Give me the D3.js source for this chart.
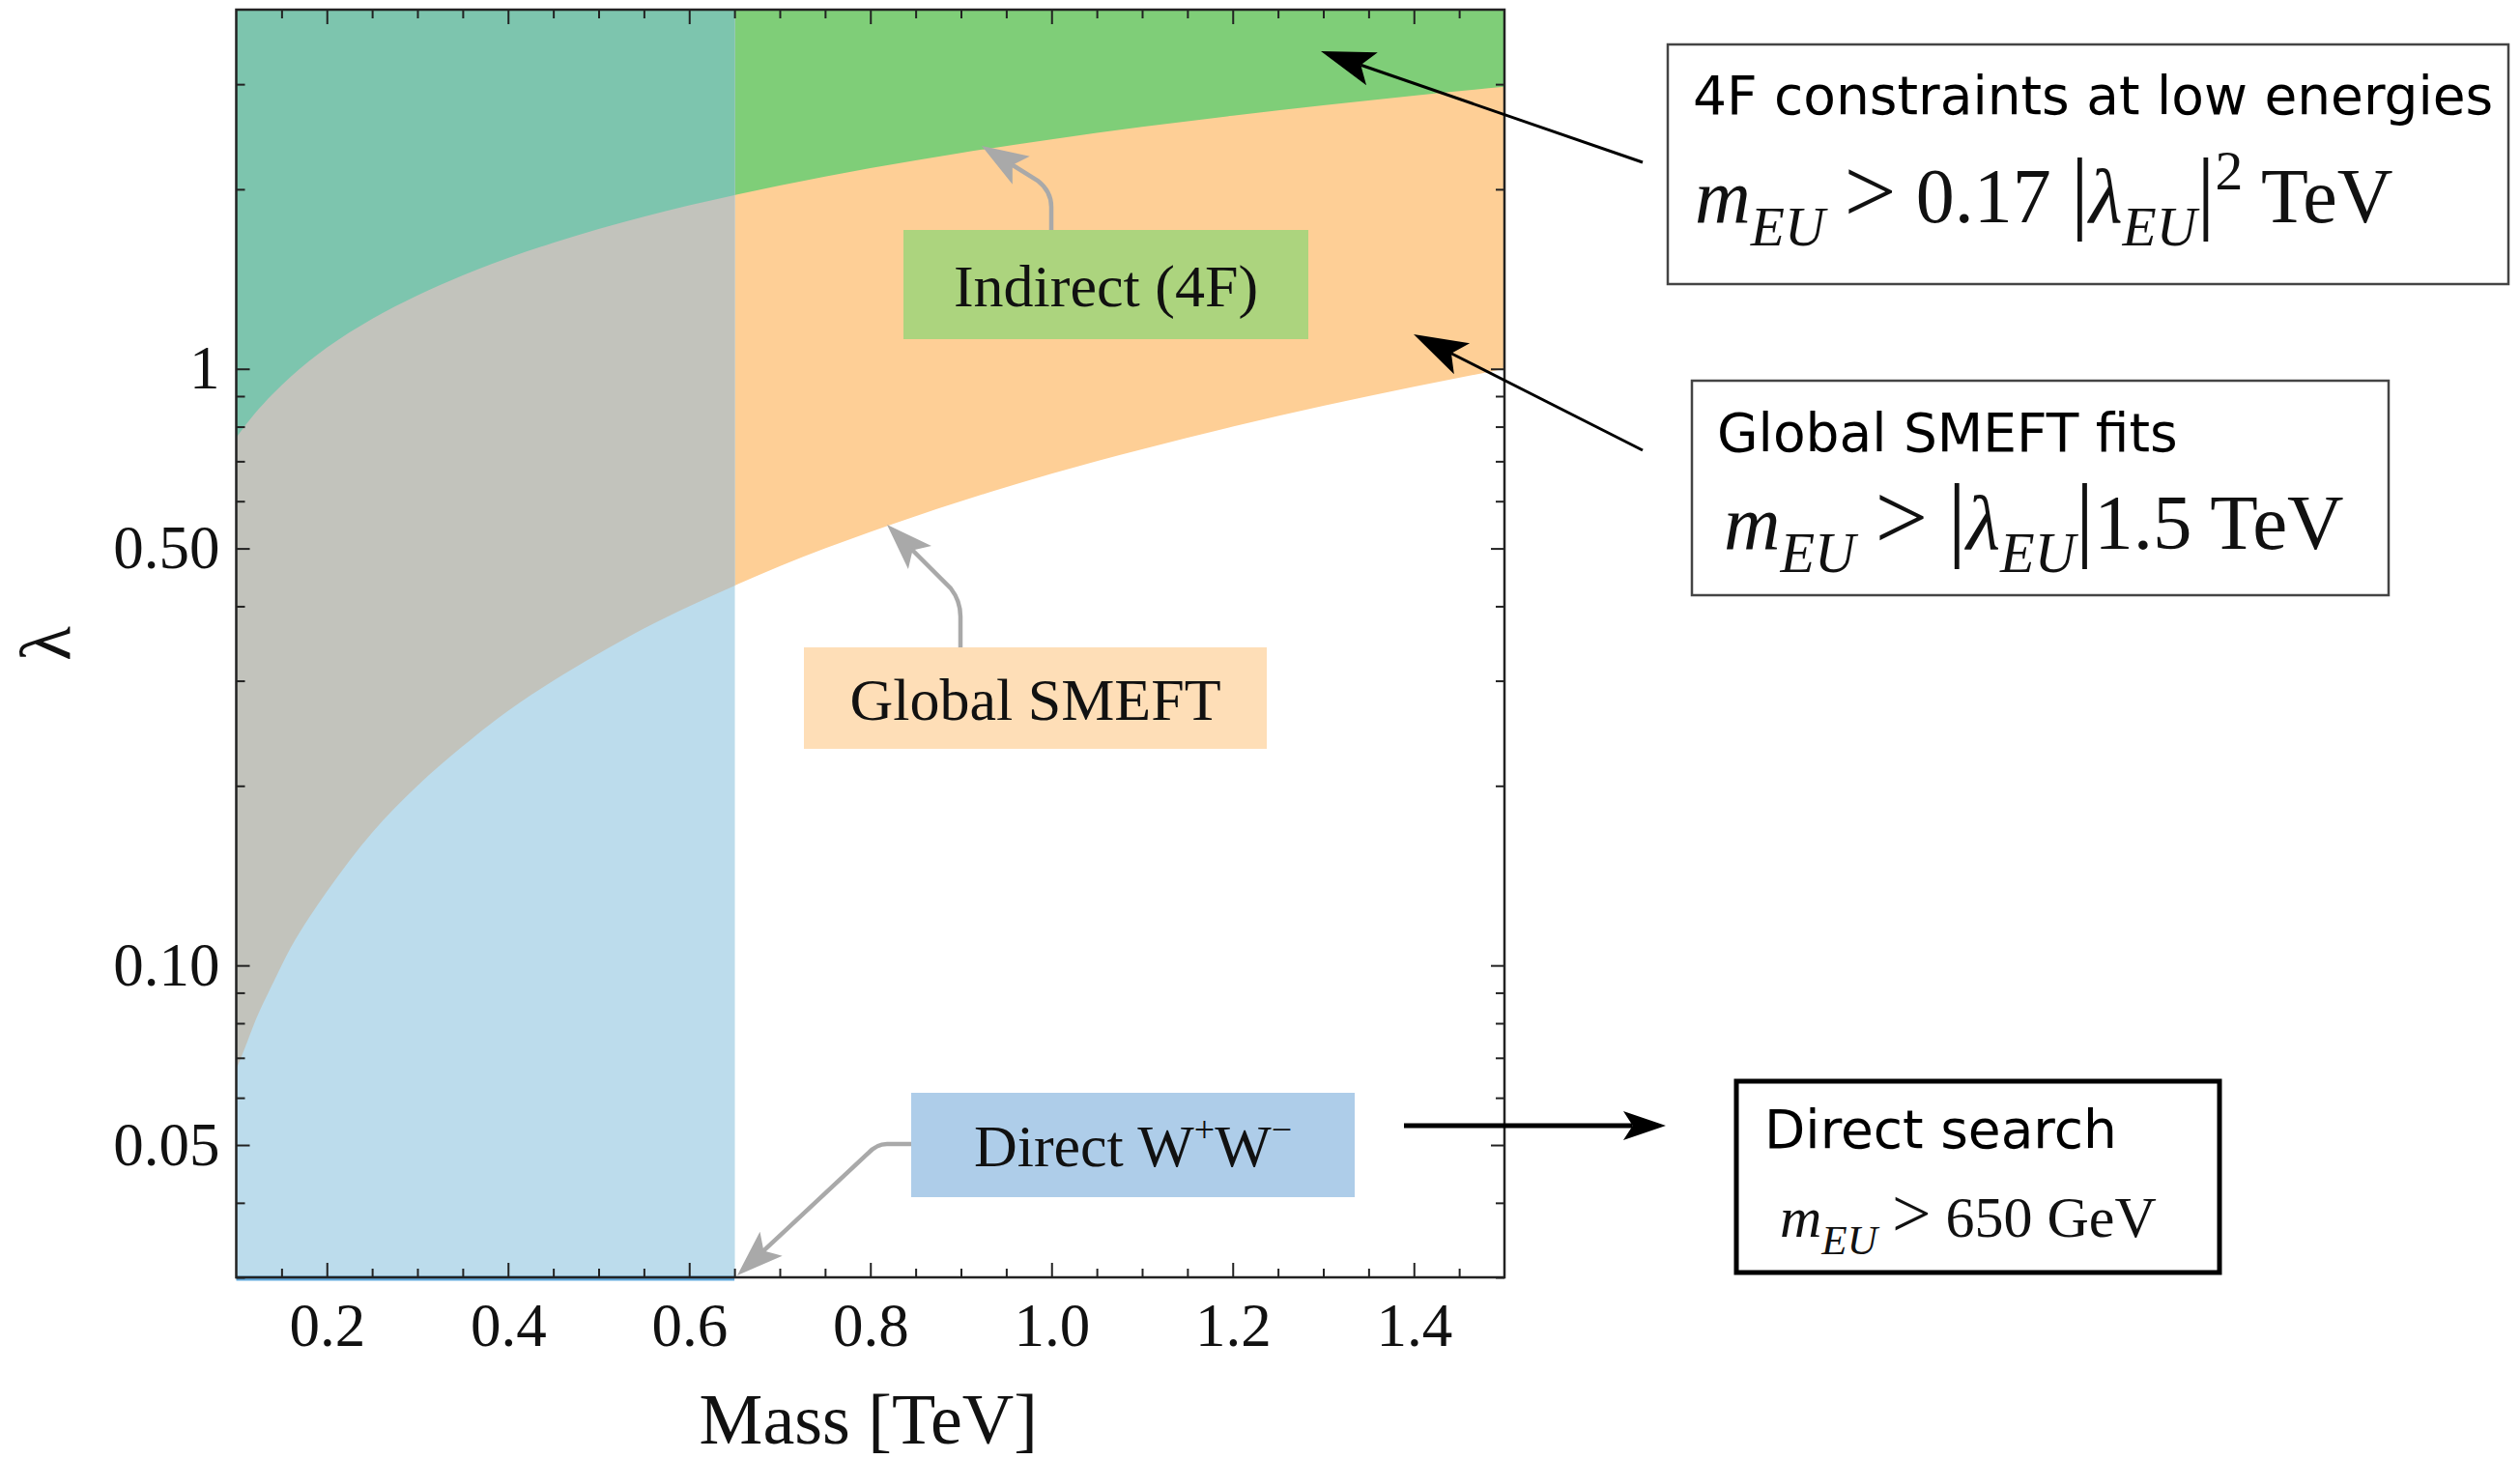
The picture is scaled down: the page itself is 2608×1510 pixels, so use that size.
<!DOCTYPE html>
<html><head><meta charset="utf-8">
<script src="https://cdn.jsdelivr.net/npm/d3@7"></script>
<style>body{margin:0;background:#fff} svg{display:block}</style>
</head><body><svg id="c" width="2608" height="1510"></svg>
<script>
// ---- data ----
const massGrid    = [0.1,0.11,0.12,0.14,0.16,0.18,0.2,0.25,0.3,0.35,0.4,0.45,0.5,0.55,0.6,0.65,0.7,0.8,0.9,1.0,1.1,1.2,1.3,1.4,1.5];
const lambdaSMEFT = [0.067,0.073,0.080,0.093,0.107,0.120,0.133,0.167,0.200,0.233,0.267,0.300,0.333,0.367,0.400,0.433,0.467,0.533,0.600,0.667,0.733,0.800,0.867,0.933,1.000];
const lambda4F    = [0.767,0.804,0.840,0.907,0.970,1.029,1.085,1.213,1.328,1.435,1.534,1.627,1.715,1.799,1.879,1.955,2.029,2.169,2.301,2.425,2.544,2.657,2.765,2.870,2.970];
const directLimit = 0.65;
const massRange   = [0.1, 1.5];
const lambdaRange = [0.03, 4];
const xTickValues = [0.2,0.4,0.6,0.8,1.0,1.2,1.4];
const xTickLabels = ["0.2","0.4","0.6","0.8","1.0","1.2","1.4"];
const xMinorTicks = [0.15,0.25,0.3,0.35,0.45,0.5,0.55,0.65,0.7,0.75,0.85,0.9,0.95,1.05,1.1,1.15,1.25,1.3,1.35,1.45];
const yTickValues = [0.05,0.1,0.5,1];
const yTickLabels = ["0.05","0.10","0.50","1"];
const yMinorTicks = [0.03,0.04,0.06,0.07,0.08,0.09,0.2,0.3,0.4,0.6,0.7,0.8,0.9,2,3];
const regionLabels = ["Indirect (4F)","Global SMEFT","Direct W"];

// ---- layout ----
const svg = d3.select("#c");
const L = 244.5, R = 1557, T = 10, B = 1322;
const x = d3.scaleLinear(massRange, [L, R]);
const y = d3.scaleLog(lambdaRange, [B, T]);
const SERIF = "'Liberation Serif', 'Times New Roman', serif";
const SANS = "'DejaVu Sans', sans-serif";

const pts = massGrid.map((m,i)=>({m, s:lambdaSMEFT[i], f:lambda4F[i]}));
const areaAbove = key => d3.area().x(d=>x(d.m)).y0(y(lambdaRange[1])).y1(d=>y(d[key])).curve(d3.curveMonotoneX);

const defs = svg.append("defs");
defs.append("clipPath").attr("id","clipL").append("rect")
  .attr("x", x(massRange[0])).attr("y", T).attr("width", x(directLimit)-x(massRange[0])+0.4).attr("height", B-T);
defs.append("clipPath").attr("id","clipR").append("rect")
  .attr("x", x(directLimit)).attr("y", T).attr("width", x(massRange[1])-x(directLimit)).attr("height", B-T);

const gR = svg.append("g").attr("clip-path","url(#clipR)");
gR.append("path").datum(pts).attr("d", areaAbove("s")).attr("fill","#fecf96");
gR.append("path").datum(pts).attr("d", areaAbove("f")).attr("fill","#7fce78");
const gL = svg.append("g").attr("clip-path","url(#clipL)");
gL.append("rect").attr("x",L).attr("y",T).attr("width",R-L).attr("height",B-T).attr("fill","#bcdcec");
gL.append("path").datum(pts).attr("d", areaAbove("s")).attr("fill","#c2c3bc");
gL.append("path").datum(pts).attr("d", areaAbove("f")).attr("fill","#7dc5ae");

svg.append("line").attr("x1", x(massRange[0])).attr("x2", x(directLimit))
  .attr("y1", B+1).attr("y2", B+1).attr("stroke","#62aade").attr("stroke-width",5);

// ---- axes (ticks inward) ----
function tickGroup(axis, tr){
  const g = svg.append("g").attr("transform", tr).call(axis);
  g.select(".domain").remove();
  g.selectAll(".tick line").attr("stroke","#222").attr("stroke-width",2);
  g.selectAll("text").attr("font-family", SERIF).attr("font-size", 63).attr("fill","#111");
  return g;
}
tickGroup(d3.axisBottom(x).tickValues(xTickValues).tickSize(-15).tickPadding(26).tickFormat((d,i)=>xTickLabels[i]), `translate(0,${B})`);
tickGroup(d3.axisBottom(x).tickValues(xMinorTicks).tickSize(-9).tickFormat(""), `translate(0,${B})`);
tickGroup(d3.axisTop(x).tickValues(xTickValues).tickSize(-15).tickFormat(""), `translate(0,${T})`);
tickGroup(d3.axisTop(x).tickValues(xMinorTicks).tickSize(-9).tickFormat(""), `translate(0,${T})`);
tickGroup(d3.axisLeft(y).tickValues(yTickValues).tickSize(-14).tickPadding(17).tickFormat((d,i)=>yTickLabels[i]), `translate(${L},0)`);
tickGroup(d3.axisLeft(y).tickValues(yMinorTicks).tickSize(-9).tickFormat(""), `translate(${L},0)`);
tickGroup(d3.axisRight(y).tickValues(yTickValues).tickSize(-14).tickFormat(""), `translate(${R},0)`);
tickGroup(d3.axisRight(y).tickValues(yMinorTicks).tickSize(-9).tickFormat(""), `translate(${R},0)`);

svg.append("rect").attr("x",L).attr("y",T).attr("width",R-L).attr("height",B-T)
  .attr("fill","none").attr("stroke","#222").attr("stroke-width",2.5);

svg.append("text").attr("x", (L+R)/2 - 2).attr("y", 1494).attr("text-anchor","middle")
  .attr("font-family", SERIF).attr("font-size", 74).attr("fill","#111").text("Mass [TeV]");
svg.append("text").attr("transform", `translate(72,${(T+B)/2}) rotate(-90)`).attr("text-anchor","middle")
  .attr("font-family", SERIF).attr("font-size", 74).attr("fill","#111").text("λ");

// ---- arrows ----
function head(g, tip, from, len, wid, color){
  const dx = tip[0]-from[0], dy = tip[1]-from[1], Ln = Math.hypot(dx,dy);
  const ux = dx/Ln, uy = dy/Ln, px = -uy, py = ux;
  const bx = tip[0]-ux*len, by = tip[1]-uy*len;
  const nx = tip[0]-ux*len*0.78, ny = tip[1]-uy*len*0.78;
  g.append("path").attr("d", `M${tip[0]},${tip[1]} L${bx+px*wid/2},${by+py*wid/2} L${nx},${ny} L${bx-px*wid/2},${by-py*wid/2} Z`).attr("fill", color);
  return [nx, ny];
}
const ag = svg.append("g");
function grayArrow(pathStart, ctrl, tip){
  const n = head(ag, tip, ctrl, 48, 34, "#a9a9a9");
  ag.append("path").attr("d", pathStart + ` L${n[0]},${n[1]}`).attr("fill","none")
    .attr("stroke","#a9a9a9").attr("stroke-width",4.5).attr("stroke-linecap","round");
}
grayArrow("M1088,238 L1088,214 Q1088,198 1074,187", [1074,187], [1016,151]);
grayArrow("M994,671 L994,638 Q994,622 984,609", [984,609], [918,543]);
grayArrow("M943,1184 L918,1184 Q907,1184 898,1194", [898,1194], [763,1320]);

function blackArrow(tail, tip, len, wid, sw){
  const n = head(ag, tip, tail, len, wid, "#000");
  ag.append("line").attr("x1",tail[0]).attr("y1",tail[1]).attr("x2",n[0]).attr("y2",n[1])
    .attr("stroke","#000").attr("stroke-width",sw);
}
blackArrow([1700,168],[1367,53], 56, 36, 3);
blackArrow([1700,466],[1463,346], 56, 36, 3);
blackArrow([1453,1165],[1724,1165], 44, 30, 5);

// ---- region label boxes ----
function labelBox(x0,y0,x1,y1,fill,parts){
  svg.append("rect").attr("x",x0).attr("y",y0).attr("width",x1-x0).attr("height",y1-y0).attr("fill",fill);
  const t = svg.append("text").attr("x",(x0+x1)/2).attr("y",(y0+y1)/2+22).attr("text-anchor","middle")
    .attr("font-family",SERIF).attr("font-size",62).attr("fill","#111");
  let shift = 0;
  parts.forEach(p=>{
    const s = p.sup ? -25 : 0;
    t.append("tspan").attr("dy", s-shift).attr("font-size", p.sup?38:62).text(p.t);
    shift = s;
  });
}
labelBox(935,238,1354,351,"#acd47e",[{t:regionLabels[0]}]);
labelBox(832,670,1311,775,"#fedeb7",[{t:regionLabels[1]}]);
labelBox(943,1131,1402,1239,"#aecde9",[{t:regionLabels[2]},{t:"+",sup:1},{t:"W"},{t:"−",sup:1}]);

// ---- right-hand info boxes ----
function math(x0,y0,fs,parts){
  const t = svg.append("text").attr("x",x0).attr("y",y0).attr("font-family",SERIF).attr("font-size",fs).attr("fill","#111")
    .style("white-space","pre");
  let shift = 0;
  parts.forEach(p=>{
    const s = p.sub ? fs*0.3 : p.sup ? -fs*0.42 : 0;
    const size = (p.sub||p.sup) ? fs*0.72 : (p.big ? fs*1.2 : fs);
    const ts = t.append("tspan").attr("dy", s-shift).attr("font-size", size).text(p.t);
    if (p.i) ts.attr("font-style","italic");
    shift = s;
  });
}
function infoBox(x0,y0,x1,y1,sw,stroke){
  svg.append("rect").attr("x",x0).attr("y",y0).attr("width",x1-x0).attr("height",y1-y0)
    .attr("fill","#fff").attr("stroke",stroke).attr("stroke-width",sw);
}
infoBox(1726,46,2596,294,2.5,"#444");
svg.append("text").attr("x",1752).attr("y",118).attr("font-family",SANS).attr("font-size",55).attr("fill","#000").text("4F constraints at low energies");
math(1754,230,80,[{t:"m",i:1},{t:"EU",i:1,sub:1},{t:" "},{t:">",big:1},{t:" 0.17 "},{t:"|",big:1},{t:"λ",i:1},{t:"EU",i:1,sub:1},{t:"|",big:1},{t:"2",sup:1},{t:" TeV"}]);

infoBox(1751,394,2472,616,2.5,"#444");
svg.append("text").attr("x",1777).attr("y",467).attr("font-family",SANS).attr("font-size",55).attr("fill","#000").text("Global SMEFT fits");
math(1784,568,81,[{t:"m",i:1},{t:"EU",i:1,sub:1},{t:" "},{t:">",big:1},{t:" "},{t:"|",big:1},{t:"λ",i:1},{t:"EU",i:1,sub:1},{t:"|",big:1},{t:"1.5 TeV"}]);

infoBox(1797,1119,2297,1317,5,"#000");
svg.append("text").attr("x",1826).attr("y",1188).attr("font-family",SANS).attr("font-size",55).attr("fill","#000").text("Direct search");
math(1842,1280,60,[{t:"m",i:1},{t:"EU",i:1,sub:1},{t:" "},{t:">",big:1},{t:" 650 GeV"}]);
</script>
</body></html>
